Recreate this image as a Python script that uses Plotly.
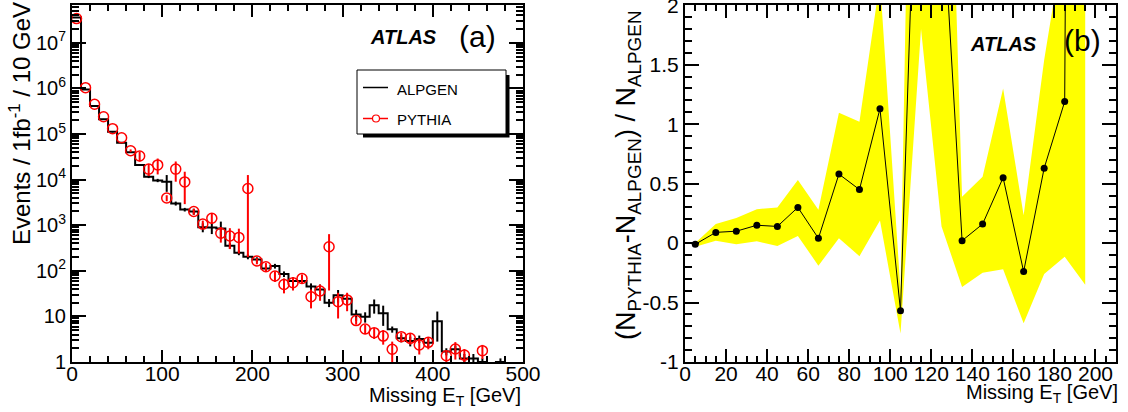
import plotly.graph_objects as go

W, H = 1128, 412

# ---------------- panel (a) data ----------------
bin_lo = list(range(0, 500, 10))
alpgen = [3.6e7, 9.5e5, 4.1e5, 2.1e5, 1.12e5, 6.4e4, 4.0e4, 2.1e4, 1.16e4, 9.6e3,
          9.0e3, 3.0e3, 2.2e3, 2.0e3, 900, 890, 850, 355, 250, 204,
          178, 113, 127, 85, 60, 60, 45, 39, 20, 29,
          24.5, 11, 9.8, 17.5, 11.7, 5.2, 3.3, 2.9, 3.2, 2.65,
          7.8, 1.7, 1.9, 1.2, 1.2, 1.0, 0, 1.0, 0, 0]
alpgen_err = [2e5, 1e4, 5e3, 3e3, 2e3, 1.5e3, 1.5e3, 1e3, 800, 800,
              3600, 300, 200, 300, 200, 250, 350, 50, 30, 25,
              20, 14, 15, 12, 13, 8, 8, 11, 4, 9,
              6, 3, 2.5, 6, 5.5, 0.8, 0.6, 0.7, 0.6, 0.6,
              5.0, 0.3, 0.4, 0.3, 0.3, 0.2, 0, 0.2, 0, 0]
pythia = [3.4e7, 1.04e6, 4.5e5, 2.4e5, 1.31e5, 8.3e4, 4.3e4, 3.3e4, 1.7e4, 2.1e4,
          3.95e3, 1.7e4, 8.9e3, 2.0e3, 1060, 1420, 665, 580, 540, 6400,
          164, 123, 77, 50, 55, 68, 27, 36, 337, 21,
          23, 8.1, 5.3, 4.4, 3.7, 1.9, 3.6, 3.3, 2.36, 2.7,
          None, 1.37, 1.93, 1.42, None, 1.77, None, None, None, None]
pythia_err = [0, 0, 0, 0, 0, 0, 3000, 8000, 5000, 8000,
              600, 8000, 6000, 300, 200, 350, 250, 280, 300, 6200,
              25, 25, 20, 18, 18, 15, 12, 14, 300, 12,
              10, 1.5, 1.2, 1.2, 1.3, 0.9, 0.8, 0.9, 0.9, 0.8,
              None, 0.4, 0.8, 0.5, None, 0.6, None, None, None, None]

# ---------------- panel (b) data ----------------
met_b = [5, 15, 25, 35, 45, 55, 65, 75, 85, 95,
         105, 115, 125, 135, 145, 155, 165, 175, 185, 195]
ratio = [-0.01, 0.09, 0.10, 0.15, 0.14, 0.30, 0.04, 0.58, 0.45, 1.13,
         -0.57, 4.7, 3.0, 0.02, 0.16, 0.55, -0.24, 0.63, 1.19, 30]
band_lo = [-0.03, 0.02, -0.01, 0.015, -0.025, 0.06, -0.19, 0.04, -0.11, 0.19,
           -0.76, 1.80, 0.14, -0.37, -0.25, -0.22, -0.675, -0.26, -0.115, -0.35]
band_hi = [0.0, 0.16, 0.21, 0.285, 0.30, 0.53, 0.28, 1.095, 1.02, 2.21,
           -0.40, 9.0, 6.1, 0.39, 0.557, 1.30, 0.235, 1.54, 2.6, 60]

BIN_W = 10
FLOOR = 0.3  # empty bins drawn below the axis floor

FONT = "Liberation Sans, Arial, Helvetica, sans-serif"


def px_x(x):
    return x / W


def px_y(y):
    return 1 - y / H


fig = go.Figure()

# ALPGEN histogram (step)
edges = bin_lo + [bin_lo[-1] + BIN_W]
step_y = [v if v > 0 else FLOOR for v in alpgen]
fig.add_trace(go.Scatter(x=edges, y=step_y + [step_y[-1]], mode="lines",
                         line=dict(color="black", width=2, shape="hv"),
                         xaxis="x", yaxis="y", showlegend=False))
centers = [b + BIN_W / 2 for b in bin_lo]
ac = [c for c, v in zip(centers, alpgen) if v > 0]
av = [v for v in alpgen if v > 0]
ae = [e for e, v in zip(alpgen_err, alpgen) if v > 0]
fig.add_trace(go.Scatter(x=ac, y=av, mode="markers",
                         marker=dict(size=1, color="black"),
                         error_y=dict(type="data", array=ae, visible=True,
                                      color="black", thickness=2, width=0),
                         xaxis="x", yaxis="y", showlegend=False))

# PYTHIA points
pc = [c for c, v in zip(centers, pythia) if v is not None]
pv = [v for v in pythia if v is not None]
pe = [e for e, v in zip(pythia_err, pythia) if v is not None]
fig.add_trace(go.Scatter(x=pc, y=pv, mode="markers",
                         marker=dict(symbol="circle-open", size=10, color="red",
                                     line=dict(width=1.5, color="red")),
                         error_y=dict(type="data", array=pe, visible=True,
                                      color="red", thickness=2, width=0),
                         xaxis="x", yaxis="y", showlegend=False))

# panel (b): band
fig.add_trace(go.Scatter(x=met_b, y=band_lo, mode="lines", line=dict(width=0, color="#ffff00"),
                         xaxis="x2", yaxis="y2", showlegend=False, hoverinfo="skip"))
fig.add_trace(go.Scatter(x=met_b, y=band_hi, mode="lines", line=dict(width=0, color="#ffff00"),
                         fill="tonexty", fillcolor="#ffff00",
                         xaxis="x2", yaxis="y2", showlegend=False, hoverinfo="skip"))
fig.add_trace(go.Scatter(x=met_b, y=ratio, mode="lines+markers",
                         line=dict(color="black", width=1),
                         marker=dict(size=7, color="black"),
                         xaxis="x2", yaxis="y2", showlegend=False))

# axes
common = dict(showgrid=False, zeroline=False, showline=True, linecolor="black",
              linewidth=2, mirror="ticks", ticks="inside", tickcolor="black",
              tickwidth=1.5, automargin=False, ticklabeloverflow="allow",
              tickfont=dict(family=FONT, size=21, color="black"))

dec_vals = [10 ** d for d in range(0, 8)]
dec_text = ["1", "10"] + ["10<sup>%d</sup>" % d for d in range(2, 8)]
minor_log = [k * 10 ** d for d in range(0, 8) for k in range(2, 10)]

fig.update_layout(
    width=W, height=H, autosize=False,
    margin=dict(l=0, r=0, t=0, b=0, autoexpand=False),
    paper_bgcolor="white", plot_bgcolor="white",
    font=dict(family=FONT, color="black"),
    xaxis=dict(domain=[px_x(72), px_x(523)], range=[0, 500],
               tickvals=[0, 100, 200, 300, 400, 500], ticklen=12,
               ticklabelstandoff=-8,
               minor=dict(dtick=20, tick0=0, ticklen=6, ticks="inside", tickcolor="black"),
               anchor="y", **common),
    yaxis=dict(domain=[px_y(362), px_y(5)], type="log", range=[0, 7.83],
               tickvals=dec_vals, ticktext=dec_text, ticklen=14,
               minor=dict(tickmode="array", tickvals=minor_log, ticklen=7,
                          ticks="inside", tickcolor="black"),
               anchor="x", **{**common, "tickfont": dict(family=FONT, size=20, color="black")}),
    xaxis2=dict(domain=[px_x(685), px_x(1116)], range=[0, 210],
                tickvals=list(range(0, 201, 20)), ticklen=13,
                ticklabelstandoff=-8,
                minor=dict(dtick=5, tick0=0, ticklen=6, ticks="inside", tickcolor="black"),
                anchor="y2", **common),
    yaxis2=dict(domain=[px_y(362), px_y(5)], range=[-1, 2.002],
                tickvals=[-1, -0.5, 0, 0.5, 1, 1.5, 2],
                ticktext=["-1", "-0.5", "0", "0.5", "1", "1.5", "2"], ticklen=14,
                minor=dict(dtick=0.1, tick0=0, ticklen=7, ticks="inside", tickcolor="black"),
                anchor="x2", **common),
)

ann = []
# axis titles
ann.append(dict(text="Missing E<sub>T</sub> [GeV]", x=px_x(523), y=px_y(382),
                xanchor="right", yanchor="top", font=dict(size=20)))
ann.append(dict(text="Missing E<sub>T</sub> [GeV]", x=px_x(1120), y=px_y(379),
                xanchor="right", yanchor="top", font=dict(size=20)))
ann.append(dict(text="Events / 1fb<sup>-1</sup> / 10 GeV", x=px_x(20), y=px_y(124),
                xanchor="center", yanchor="middle", textangle=-90, font=dict(size=24)))
ann.append(dict(text="(N<sub>PYTHIA</sub>-N<sub>ALPGEN</sub>) / N<sub>ALPGEN</sub>",
                x=px_x(628), y=px_y(175), xanchor="center", yanchor="middle",
                textangle=-90, font=dict(size=27)))
# labels
ann.append(dict(text="<b><i>ATLAS</i></b>", x=px_x(403.5), y=px_y(36.5),
                xanchor="center", yanchor="middle", font=dict(size=20)))
ann.append(dict(text="(a)", x=px_x(477), y=px_y(36.5),
                xanchor="center", yanchor="middle", font=dict(size=30)))
ann.append(dict(text="<b><i>ATLAS</i></b>", x=px_x(1003.5), y=px_y(44),
                xanchor="center", yanchor="middle", font=dict(size=20)))
ann.append(dict(text="(b)", x=px_x(1082), y=px_y(41),
                xanchor="center", yanchor="middle", font=dict(size=30)))
# legend texts
ann.append(dict(text="ALPGEN", x=px_x(395), y=px_y(89), xanchor="left",
                yanchor="middle", font=dict(size=15)))
ann.append(dict(text="PYTHIA", x=px_x(395), y=px_y(119.5), xanchor="left",
                yanchor="middle", font=dict(size=15)))
for a in ann:
    a.update(xref="paper", yref="paper", showarrow=False)
    a["font"].update(family=FONT, color="black")
fig.update_layout(annotations=ann)

shapes = [
    dict(type="rect", x0=px_x(363), x1=px_x(509.5), y0=px_y(137.5), y1=px_y(75),
         fillcolor="black", line=dict(width=0)),
    dict(type="rect", x0=px_x(357), x1=px_x(506), y0=px_y(134), y1=px_y(70),
         fillcolor="white", line=dict(width=1, color="black")),
    dict(type="line", x0=px_x(363), x1=px_x(388), y0=px_y(87.5), y1=px_y(87.5),
         line=dict(color="black", width=1.5)),
    dict(type="line", x0=px_x(363), x1=px_x(388), y0=px_y(118.5), y1=px_y(118.5),
         line=dict(color="red", width=1.5)),
    dict(type="circle", x0=px_x(372.5), x1=px_x(379.5), y0=px_y(122), y1=px_y(115),
         fillcolor="white", line=dict(color="red", width=1.2)),
]
for s in shapes:
    s.update(xref="paper", yref="paper", layer="above")
fig.update_layout(shapes=shapes)

fig.write_html("out.html", config={"displayModeBar": False},
               post_script="document.body.style.margin='0';document.body.style.overflow='hidden';")
